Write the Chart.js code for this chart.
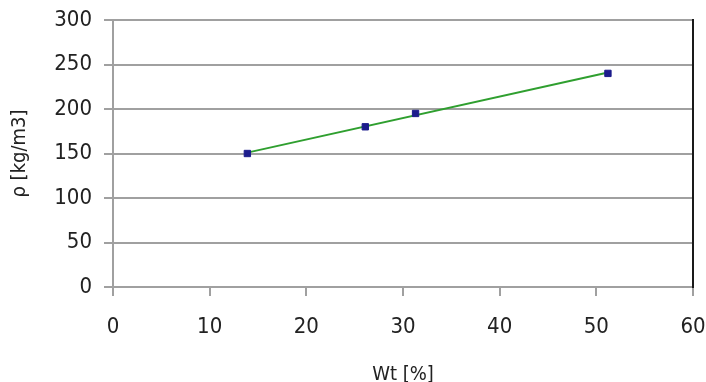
<!DOCTYPE html>
<html>
<head>
<meta charset="utf-8">
<script src="https://cdn.jsdelivr.net/npm/chart.js@4/dist/chart.umd.min.js"></script>
<style>
  html, body { margin: 0; padding: 0; background: #fff; }
  #wrap { width: 706px; height: 382px; position: relative; }
</style>
</head>
<body>
<div id="wrap"><canvas id="densityChart"></canvas></div>
<script>
const wtValues = [13.9, 26.1, 31.3, 51.2];
const densityValues = [150, 180, 195, 240];
// linear trendline, its two ends
const trendWt = [13.9, 51.2];
const trendDensity = [151, 241];

const xTicks = [0, 10, 20, 30, 40, 50, 60];
const yTicks = [0, 50, 100, 150, 200, 250, 300];

const textColor = '#222';
const tickFont = { family: 'DejaVu Sans Condensed', size: 22 };
const titleFont = { family: 'DejaVu Sans Condensed', size: 20 };

const points = wtValues.map((x, i) => ({ x: x, y: densityValues[i] }));
const trend = trendWt.map((x, i) => ({ x: x, y: trendDensity[i] }));

const ctx = document.getElementById('densityChart').getContext('2d');

new Chart(ctx, {
    type: 'scatter',
    data: {
        datasets: [{
            label: 'trend',
            data: trend,
            showLine: true,
            borderColor: '#2f9f2f',
            borderWidth: 2,
            pointRadius: 0,
            order: 2
        }, {
            label: 'density',
            data: points,
            pointStyle: 'rect',
            pointRadius: 4.5,
            backgroundColor: '#1c1c8c',
            borderColor: '#1c1c8c',
            borderWidth: 1,
            order: 1
        }]
    },
    options: {
        responsive: true,
        maintainAspectRatio: false,
        animation: false,
        layout: { padding: { left: 0, right: 13, top: 20, bottom: 0 } },
        plugins: {
            legend: { display: false },
            tooltip: { enabled: false }
        },
        scales: {
            x: {
                type: 'linear',
                min: 0,
                max: 60,
                afterBuildTicks: (axis) => { axis.ticks = xTicks.map(v => ({ value: v })); },
                ticks: { font: tickFont, color: textColor, padding: 18, maxRotation: 0 },
                grid: { drawOnChartArea: false, drawTicks: true, tickLength: 9, color: '#a0a0a0', lineWidth: 2 },
                border: { color: '#a0a0a0', width: 2 },
                title: {
                    display: true,
                    text: 'Wt [%]',
                    color: textColor,
                    font: titleFont,
                    padding: { top: 10, bottom: -5 }
                },
                afterFit: (axis) => {
                    axis.height = 95;
                    axis.paddingLeft = 0;
                    axis.paddingRight = 0;
                }
            },
            y: {
                type: 'linear',
                min: 0,
                max: 300,
                afterBuildTicks: (axis) => { axis.ticks = yTicks.map(v => ({ value: v })); },
                ticks: { font: tickFont, color: textColor, padding: 12 },
                grid: { color: '#a0a0a0', lineWidth: 2, tickLength: 9 },
                border: { color: '#a0a0a0', width: 2 },
                title: {
                    display: true,
                    text: 'ρ [kg/m3]',
                    color: textColor,
                    font: titleFont,
                    padding: { top: 8, bottom: 0 }
                },
                afterFit: (axis) => {
                    axis.width = 113;
                    axis.paddingTop = 0;
                    axis.paddingBottom = 0;
                }
            },
            y2: {
                type: 'linear',
                position: 'right',
                min: 0,
                max: 300,
                ticks: { display: false },
                grid: { drawOnChartArea: false, drawTicks: false },
                border: { color: '#1a1a1a', width: 2 },
                afterFit: (axis) => {
                    axis.width = 0;
                    axis.paddingTop = 0;
                    axis.paddingBottom = 0;
                }
            }
        }
    }
});
</script>
</body>
</html>
